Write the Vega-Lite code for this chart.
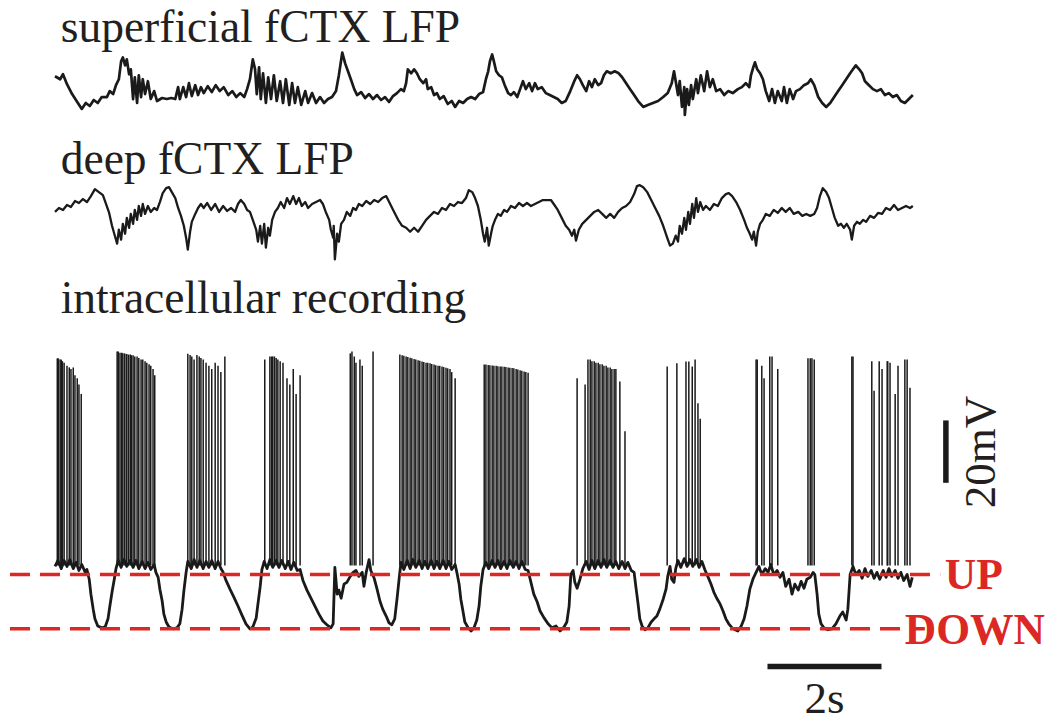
{
"$schema":"https://vega.github.io/schema/vega-lite/v6.json",
"width":1051,"height":723,
"autosize":{"type":"fit","contains":"padding"},
"padding":0,
"background":"white",
"config":{"view":{"stroke":null}},
"datasets":{
"sup":[{"t":0,"v":130},{"t":0.09,"v":100},{"t":0.14,"v":150},{"t":0.21,"v":50},{"t":0.3,"v":-50},{"t":0.39,"v":-130},{"t":0.47,"v":-200},{"t":0.54,"v":-140},{"t":0.61,"v":-170},{"t":0.68,"v":-110},{"t":0.75,"v":-140},{"t":0.82,"v":-80},{"t":0.91,"v":-80},{"t":0.96,"v":-20},{"t":1.02,"v":-50},{"t":1.07,"v":40},{"t":1.12,"v":100},{"t":1.16,"v":280},{"t":1.19,"v":320},{"t":1.23,"v":240},{"t":1.26,"v":300},{"t":1.3,"v":150},{"t":1.33,"v":200},{"t":1.37,"v":-100},{"t":1.4,"v":120},{"t":1.44,"v":-140},{"t":1.47,"v":140},{"t":1.51,"v":-80},{"t":1.54,"v":100},{"t":1.58,"v":-50},{"t":1.63,"v":80},{"t":1.68,"v":-100},{"t":1.74,"v":-20},{"t":1.79,"v":-120},{"t":1.88,"v":-90},{"t":1.96,"v":-100},{"t":2.04,"v":-90},{"t":2.11,"v":-100},{"t":2.16,"v":20},{"t":2.19,"v":-100},{"t":2.25,"v":20},{"t":2.3,"v":-80},{"t":2.35,"v":60},{"t":2.4,"v":-70},{"t":2.46,"v":40},{"t":2.51,"v":-60},{"t":2.56,"v":20},{"t":2.61,"v":-40},{"t":2.68,"v":30},{"t":2.75,"v":-30},{"t":2.82,"v":40},{"t":2.89,"v":-20},{"t":2.96,"v":20},{"t":3.04,"v":-60},{"t":3.11,"v":-20},{"t":3.18,"v":-80},{"t":3.25,"v":-40},{"t":3.32,"v":-80},{"t":3.37,"v":0},{"t":3.42,"v":100},{"t":3.47,"v":300},{"t":3.51,"v":200},{"t":3.54,"v":-50},{"t":3.58,"v":220},{"t":3.61,"v":-100},{"t":3.65,"v":160},{"t":3.7,"v":-140},{"t":3.74,"v":120},{"t":3.79,"v":-100},{"t":3.84,"v":140},{"t":3.89,"v":-120},{"t":3.95,"v":80},{"t":4.0,"v":-140},{"t":4.05,"v":100},{"t":4.11,"v":-160},{"t":4.16,"v":60},{"t":4.21,"v":-140},{"t":4.26,"v":20},{"t":4.32,"v":-160},{"t":4.39,"v":-20},{"t":4.44,"v":-140},{"t":4.51,"v":-40},{"t":4.58,"v":-140},{"t":4.65,"v":-80},{"t":4.72,"v":-140},{"t":4.79,"v":-100},{"t":4.86,"v":-80},{"t":4.93,"v":-20},{"t":4.98,"v":140},{"t":5.04,"v":370},{"t":5.09,"v":260},{"t":5.14,"v":180},{"t":5.19,"v":100},{"t":5.25,"v":0},{"t":5.3,"v":-60},{"t":5.37,"v":-30},{"t":5.44,"v":-90},{"t":5.51,"v":-50},{"t":5.58,"v":-100},{"t":5.65,"v":-60},{"t":5.72,"v":-110},{"t":5.79,"v":-80},{"t":5.86,"v":-130},{"t":5.93,"v":-70},{"t":6.0,"v":-40},{"t":6.07,"v":0},{"t":6.12,"v":-20},{"t":6.16,"v":60},{"t":6.19,"v":200},{"t":6.25,"v":160},{"t":6.3,"v":200},{"t":6.35,"v":160},{"t":6.4,"v":100},{"t":6.46,"v":60},{"t":6.51,"v":100},{"t":6.54,"v":0},{"t":6.6,"v":20},{"t":6.65,"v":-60},{"t":6.7,"v":-40},{"t":6.75,"v":-100},{"t":6.82,"v":-70},{"t":6.89,"v":-150},{"t":6.96,"v":-120},{"t":7.02,"v":-180},{"t":7.09,"v":-120},{"t":7.16,"v":-140},{"t":7.23,"v":-100},{"t":7.3,"v":-80},{"t":7.37,"v":-100},{"t":7.44,"v":-50},{"t":7.51,"v":-30},{"t":7.56,"v":100},{"t":7.6,"v":180},{"t":7.63,"v":280},{"t":7.67,"v":350},{"t":7.7,"v":280},{"t":7.74,"v":180},{"t":7.79,"v":140},{"t":7.84,"v":120},{"t":7.89,"v":40},{"t":7.95,"v":-40},{"t":8.0,"v":-60},{"t":8.05,"v":-30},{"t":8.11,"v":-80},{"t":8.16,"v":0},{"t":8.21,"v":80},{"t":8.26,"v":0},{"t":8.32,"v":60},{"t":8.37,"v":-20},{"t":8.42,"v":60},{"t":8.47,"v":0},{"t":8.54,"v":20},{"t":8.61,"v":-40},{"t":8.68,"v":-60},{"t":8.75,"v":-80},{"t":8.82,"v":-100},{"t":8.89,"v":-140},{"t":8.96,"v":-120},{"t":9.04,"v":-20},{"t":9.11,"v":80},{"t":9.16,"v":140},{"t":9.21,"v":100},{"t":9.26,"v":40},{"t":9.32,"v":-20},{"t":9.37,"v":80},{"t":9.42,"v":20},{"t":9.47,"v":100},{"t":9.53,"v":40},{"t":9.58,"v":60},{"t":9.63,"v":140},{"t":9.68,"v":180},{"t":9.75,"v":160},{"t":9.82,"v":180},{"t":9.89,"v":160},{"t":9.95,"v":120},{"t":10.02,"v":60},{"t":10.09,"v":0},{"t":10.16,"v":-60},{"t":10.23,"v":-120},{"t":10.32,"v":-180},{"t":10.4,"v":-160},{"t":10.49,"v":-140},{"t":10.58,"v":-120},{"t":10.67,"v":-80},{"t":10.75,"v":-40},{"t":10.82,"v":60},{"t":10.86,"v":180},{"t":10.89,"v":80},{"t":10.93,"v":-60},{"t":10.96,"v":80},{"t":11.0,"v":-180},{"t":11.04,"v":20},{"t":11.05,"v":-260},{"t":11.09,"v":0},{"t":11.12,"v":-160},{"t":11.16,"v":40},{"t":11.19,"v":-100},{"t":11.25,"v":100},{"t":11.28,"v":-40},{"t":11.33,"v":140},{"t":11.39,"v":-20},{"t":11.44,"v":180},{"t":11.49,"v":20},{"t":11.54,"v":100},{"t":11.6,"v":-20},{"t":11.67,"v":0},{"t":11.74,"v":-60},{"t":11.81,"v":-20},{"t":11.89,"v":-40},{"t":11.98,"v":0},{"t":12.05,"v":20},{"t":12.12,"v":60},{"t":12.18,"v":20},{"t":12.21,"v":140},{"t":12.25,"v":220},{"t":12.28,"v":270},{"t":12.32,"v":200},{"t":12.37,"v":160},{"t":12.42,"v":100},{"t":12.47,"v":-20},{"t":12.53,"v":-120},{"t":12.58,"v":0},{"t":12.63,"v":-140},{"t":12.68,"v":-20},{"t":12.75,"v":-120},{"t":12.79,"v":20},{"t":12.84,"v":-140},{"t":12.89,"v":0},{"t":12.95,"v":-100},{"t":13.0,"v":-20},{"t":13.07,"v":0},{"t":13.14,"v":40},{"t":13.21,"v":60},{"t":13.26,"v":100},{"t":13.32,"v":40},{"t":13.39,"v":-80},{"t":13.46,"v":-140},{"t":13.53,"v":-180},{"t":13.6,"v":-140},{"t":13.67,"v":-80},{"t":13.74,"v":-20},{"t":13.81,"v":40},{"t":13.88,"v":100},{"t":13.95,"v":160},{"t":14.0,"v":200},{"t":14.05,"v":240},{"t":14.11,"v":200},{"t":14.16,"v":160},{"t":14.21,"v":80},{"t":14.28,"v":40},{"t":14.35,"v":0},{"t":14.42,"v":-20},{"t":14.49,"v":0},{"t":14.56,"v":-60},{"t":14.63,"v":-40},{"t":14.7,"v":-80},{"t":14.77,"v":-60},{"t":14.84,"v":-120},{"t":14.91,"v":-140},{"t":14.98,"v":-100},{"t":15.05,"v":-60}],
"deep":[{"t":0,"v":-40},{"t":0.07,"v":0},{"t":0.14,"v":-20},{"t":0.21,"v":30},{"t":0.28,"v":10},{"t":0.35,"v":70},{"t":0.42,"v":50},{"t":0.49,"v":90},{"t":0.56,"v":60},{"t":0.63,"v":120},{"t":0.7,"v":190},{"t":0.77,"v":160},{"t":0.84,"v":130},{"t":0.89,"v":50},{"t":0.95,"v":-50},{"t":1.0,"v":-180},{"t":1.05,"v":-280},{"t":1.09,"v":-360},{"t":1.12,"v":-220},{"t":1.16,"v":-320},{"t":1.19,"v":-160},{"t":1.23,"v":-260},{"t":1.26,"v":-100},{"t":1.3,"v":-200},{"t":1.33,"v":-60},{"t":1.37,"v":-160},{"t":1.4,"v":-20},{"t":1.44,"v":-120},{"t":1.47,"v":20},{"t":1.51,"v":-80},{"t":1.54,"v":40},{"t":1.58,"v":-60},{"t":1.63,"v":20},{"t":1.68,"v":-40},{"t":1.74,"v":0},{"t":1.79,"v":-20},{"t":1.84,"v":60},{"t":1.89,"v":150},{"t":1.95,"v":200},{"t":2.0,"v":210},{"t":2.05,"v":160},{"t":2.11,"v":100},{"t":2.16,"v":0},{"t":2.21,"v":-80},{"t":2.26,"v":-180},{"t":2.3,"v":-300},{"t":2.33,"v":-420},{"t":2.37,"v":-240},{"t":2.4,"v":-140},{"t":2.46,"v":-60},{"t":2.51,"v":0},{"t":2.56,"v":40},{"t":2.61,"v":0},{"t":2.67,"v":50},{"t":2.74,"v":-20},{"t":2.81,"v":40},{"t":2.88,"v":-40},{"t":2.95,"v":20},{"t":3.02,"v":-30},{"t":3.09,"v":0},{"t":3.16,"v":-40},{"t":3.21,"v":40},{"t":3.26,"v":80},{"t":3.32,"v":40},{"t":3.37,"v":-20},{"t":3.42,"v":-40},{"t":3.47,"v":-120},{"t":3.53,"v":-220},{"t":3.56,"v":-340},{"t":3.6,"v":-180},{"t":3.63,"v":-360},{"t":3.67,"v":-160},{"t":3.7,"v":-400},{"t":3.74,"v":-200},{"t":3.77,"v":-280},{"t":3.81,"v":-120},{"t":3.86,"v":-40},{"t":3.91,"v":0},{"t":3.96,"v":60},{"t":4.02,"v":0},{"t":4.07,"v":100},{"t":4.12,"v":40},{"t":4.18,"v":120},{"t":4.23,"v":40},{"t":4.28,"v":100},{"t":4.33,"v":20},{"t":4.39,"v":60},{"t":4.44,"v":0},{"t":4.51,"v":40},{"t":4.58,"v":60},{"t":4.65,"v":80},{"t":4.7,"v":40},{"t":4.75,"v":-40},{"t":4.81,"v":-120},{"t":4.84,"v":-220},{"t":4.88,"v":-300},{"t":4.89,"v":-180},{"t":4.91,"v":-520},{"t":4.95,"v":-260},{"t":4.98,"v":-340},{"t":5.02,"v":-160},{"t":5.07,"v":-120},{"t":5.12,"v":-40},{"t":5.18,"v":-80},{"t":5.23,"v":0},{"t":5.28,"v":-20},{"t":5.33,"v":40},{"t":5.39,"v":20},{"t":5.46,"v":70},{"t":5.53,"v":40},{"t":5.6,"v":80},{"t":5.67,"v":60},{"t":5.74,"v":100},{"t":5.81,"v":120},{"t":5.88,"v":40},{"t":5.95,"v":-40},{"t":6.02,"v":-120},{"t":6.09,"v":-180},{"t":6.16,"v":-200},{"t":6.23,"v":-240},{"t":6.3,"v":-200},{"t":6.37,"v":-240},{"t":6.44,"v":-180},{"t":6.51,"v":-120},{"t":6.58,"v":-80},{"t":6.65,"v":-40},{"t":6.72,"v":-60},{"t":6.79,"v":0},{"t":6.86,"v":-20},{"t":6.93,"v":40},{"t":7.0,"v":20},{"t":7.07,"v":60},{"t":7.14,"v":50},{"t":7.21,"v":100},{"t":7.26,"v":180},{"t":7.32,"v":160},{"t":7.37,"v":100},{"t":7.42,"v":20},{"t":7.47,"v":-120},{"t":7.51,"v":-260},{"t":7.54,"v":-340},{"t":7.58,"v":-200},{"t":7.61,"v":-380},{"t":7.65,"v":-260},{"t":7.68,"v":-180},{"t":7.72,"v":-120},{"t":7.77,"v":-60},{"t":7.82,"v":-80},{"t":7.88,"v":-20},{"t":7.93,"v":-40},{"t":8.0,"v":20},{"t":8.07,"v":0},{"t":8.14,"v":50},{"t":8.21,"v":20},{"t":8.28,"v":50},{"t":8.35,"v":20},{"t":8.42,"v":40},{"t":8.49,"v":60},{"t":8.56,"v":80},{"t":8.63,"v":80},{"t":8.7,"v":80},{"t":8.75,"v":40},{"t":8.82,"v":-20},{"t":8.89,"v":-100},{"t":8.96,"v":-180},{"t":9.02,"v":-220},{"t":9.07,"v":-280},{"t":9.11,"v":-220},{"t":9.14,"v":-330},{"t":9.19,"v":-220},{"t":9.25,"v":-160},{"t":9.32,"v":-120},{"t":9.39,"v":-80},{"t":9.46,"v":-40},{"t":9.53,"v":-20},{"t":9.6,"v":-60},{"t":9.67,"v":-100},{"t":9.74,"v":-60},{"t":9.81,"v":-100},{"t":9.88,"v":-40},{"t":9.95,"v":0},{"t":10.02,"v":20},{"t":10.09,"v":60},{"t":10.16,"v":140},{"t":10.21,"v":220},{"t":10.26,"v":230},{"t":10.32,"v":210},{"t":10.39,"v":160},{"t":10.46,"v":80},{"t":10.53,"v":0},{"t":10.6,"v":-80},{"t":10.67,"v":-180},{"t":10.74,"v":-300},{"t":10.79,"v":-380},{"t":10.84,"v":-360},{"t":10.89,"v":-280},{"t":10.93,"v":-340},{"t":10.96,"v":-180},{"t":11.0,"v":-260},{"t":11.04,"v":-100},{"t":11.07,"v":-220},{"t":11.11,"v":-40},{"t":11.14,"v":-160},{"t":11.18,"v":40},{"t":11.21,"v":-100},{"t":11.25,"v":100},{"t":11.28,"v":-40},{"t":11.32,"v":60},{"t":11.37,"v":-20},{"t":11.42,"v":20},{"t":11.49,"v":-20},{"t":11.56,"v":40},{"t":11.63,"v":20},{"t":11.7,"v":100},{"t":11.77,"v":140},{"t":11.82,"v":150},{"t":11.88,"v":120},{"t":11.95,"v":60},{"t":12.02,"v":-20},{"t":12.09,"v":-120},{"t":12.14,"v":-200},{"t":12.19,"v":-260},{"t":12.23,"v":-320},{"t":12.26,"v":-240},{"t":12.3,"v":-380},{"t":12.33,"v":-240},{"t":12.37,"v":-160},{"t":12.42,"v":-120},{"t":12.47,"v":-60},{"t":12.54,"v":-80},{"t":12.61,"v":-20},{"t":12.68,"v":-50},{"t":12.75,"v":0},{"t":12.82,"v":-40},{"t":12.89,"v":0},{"t":12.96,"v":-60},{"t":13.04,"v":-40},{"t":13.11,"v":-80},{"t":13.18,"v":-60},{"t":13.25,"v":-80},{"t":13.32,"v":-60},{"t":13.37,"v":0},{"t":13.42,"v":120},{"t":13.47,"v":200},{"t":13.53,"v":160},{"t":13.58,"v":100},{"t":13.63,"v":0},{"t":13.68,"v":-100},{"t":13.74,"v":-180},{"t":13.79,"v":-160},{"t":13.84,"v":-200},{"t":13.89,"v":-160},{"t":13.95,"v":-220},{"t":13.98,"v":-320},{"t":14.02,"v":-180},{"t":14.07,"v":-140},{"t":14.12,"v":-160},{"t":14.18,"v":-120},{"t":14.23,"v":-140},{"t":14.3,"v":-80},{"t":14.37,"v":-100},{"t":14.44,"v":-50},{"t":14.51,"v":-60},{"t":14.58,"v":0},{"t":14.65,"v":-20},{"t":14.72,"v":30},{"t":14.79,"v":-20},{"t":14.86,"v":0},{"t":14.93,"v":20},{"t":15.0,"v":0},{"t":15.05,"v":20}],
"intra":[{"t":0,"v":-55.3},{"t":0.05,"v":-53.4},{"t":0.11,"v":-56.0},{"t":0.16,"v":-53.4},{"t":0.21,"v":-55.3},{"t":0.26,"v":-53.1},{"t":0.32,"v":-56.0},{"t":0.37,"v":-54.0},{"t":0.42,"v":-56.6},{"t":0.47,"v":-54.7},{"t":0.53,"v":-57.2},{"t":0.56,"v":-56.3},{"t":0.6,"v":-59.4},{"t":0.63,"v":-64.2},{"t":0.67,"v":-69.0},{"t":0.7,"v":-72.1},{"t":0.75,"v":-74.4},{"t":0.82,"v":-75.0},{"t":0.88,"v":-74.7},{"t":0.93,"v":-72.1},{"t":0.96,"v":-68.3},{"t":1.0,"v":-63.6},{"t":1.04,"v":-59.4},{"t":1.07,"v":-56.0},{"t":1.11,"v":-53.4},{"t":1.16,"v":-55.6},{"t":1.21,"v":-53.1},{"t":1.26,"v":-55.3},{"t":1.32,"v":-53.4},{"t":1.37,"v":-55.6},{"t":1.42,"v":-53.4},{"t":1.47,"v":-56.0},{"t":1.53,"v":-53.7},{"t":1.58,"v":-56.0},{"t":1.63,"v":-54.0},{"t":1.68,"v":-56.3},{"t":1.74,"v":-54.7},{"t":1.77,"v":-57.2},{"t":1.81,"v":-58.8},{"t":1.84,"v":-62.6},{"t":1.88,"v":-66.4},{"t":1.91,"v":-70.6},{"t":1.95,"v":-73.1},{"t":2.0,"v":-74.7},{"t":2.07,"v":-75.3},{"t":2.14,"v":-75.0},{"t":2.19,"v":-73.7},{"t":2.23,"v":-69.0},{"t":2.26,"v":-63.3},{"t":2.3,"v":-57.2},{"t":2.33,"v":-53.7},{"t":2.39,"v":-56.0},{"t":2.44,"v":-53.1},{"t":2.49,"v":-55.6},{"t":2.54,"v":-53.4},{"t":2.6,"v":-56.0},{"t":2.65,"v":-53.7},{"t":2.7,"v":-55.6},{"t":2.75,"v":-53.4},{"t":2.81,"v":-56.0},{"t":2.86,"v":-53.7},{"t":2.91,"v":-56.0},{"t":2.95,"v":-57.2},{"t":3.0,"v":-59.8},{"t":3.07,"v":-62.6},{"t":3.14,"v":-65.2},{"t":3.21,"v":-68.0},{"t":3.28,"v":-70.9},{"t":3.35,"v":-73.7},{"t":3.42,"v":-75.3},{"t":3.47,"v":-74.7},{"t":3.53,"v":-71.8},{"t":3.56,"v":-67.4},{"t":3.6,"v":-61.7},{"t":3.63,"v":-56.3},{"t":3.67,"v":-53.7},{"t":3.72,"v":-56.0},{"t":3.77,"v":-53.1},{"t":3.82,"v":-55.6},{"t":3.88,"v":-53.4},{"t":3.93,"v":-55.6},{"t":3.98,"v":-53.4},{"t":4.04,"v":-56.0},{"t":4.09,"v":-53.7},{"t":4.14,"v":-56.3},{"t":4.19,"v":-54.0},{"t":4.25,"v":-56.6},{"t":4.3,"v":-56.3},{"t":4.35,"v":-59.8},{"t":4.42,"v":-62.9},{"t":4.49,"v":-65.5},{"t":4.56,"v":-68.0},{"t":4.63,"v":-70.6},{"t":4.7,"v":-72.8},{"t":4.77,"v":-74.0},{"t":4.84,"v":-75.0},{"t":4.88,"v":-73.7},{"t":4.91,"v":-55.6},{"t":4.95,"v":-64.2},{"t":4.98,"v":-62.9},{"t":5.02,"v":-65.5},{"t":5.07,"v":-61.0},{"t":5.12,"v":-60.4},{"t":5.18,"v":-58.5},{"t":5.23,"v":-57.2},{"t":5.28,"v":-56.6},{"t":5.33,"v":-58.5},{"t":5.39,"v":-57.2},{"t":5.42,"v":-61.7},{"t":5.46,"v":-57.2},{"t":5.51,"v":-53.1},{"t":5.54,"v":-56.6},{"t":5.6,"v":-59.1},{"t":5.65,"v":-62.6},{"t":5.7,"v":-66.4},{"t":5.75,"v":-69.0},{"t":5.81,"v":-71.2},{"t":5.86,"v":-73.4},{"t":5.91,"v":-74.0},{"t":5.96,"v":-72.1},{"t":6.0,"v":-65.8},{"t":6.04,"v":-58.8},{"t":6.07,"v":-54.0},{"t":6.12,"v":-56.3},{"t":6.18,"v":-53.4},{"t":6.23,"v":-56.0},{"t":6.28,"v":-53.1},{"t":6.33,"v":-55.6},{"t":6.39,"v":-53.4},{"t":6.44,"v":-56.0},{"t":6.49,"v":-53.7},{"t":6.54,"v":-56.0},{"t":6.6,"v":-53.4},{"t":6.65,"v":-56.0},{"t":6.7,"v":-53.7},{"t":6.75,"v":-56.0},{"t":6.81,"v":-53.4},{"t":6.86,"v":-56.0},{"t":6.91,"v":-53.7},{"t":6.96,"v":-56.3},{"t":7.02,"v":-54.7},{"t":7.05,"v":-57.2},{"t":7.09,"v":-61.0},{"t":7.12,"v":-65.8},{"t":7.16,"v":-69.9},{"t":7.19,"v":-73.1},{"t":7.25,"v":-75.0},{"t":7.3,"v":-76.0},{"t":7.35,"v":-75.0},{"t":7.4,"v":-72.5},{"t":7.44,"v":-68.0},{"t":7.47,"v":-61.7},{"t":7.51,"v":-56.3},{"t":7.56,"v":-54.0},{"t":7.61,"v":-56.0},{"t":7.67,"v":-53.4},{"t":7.72,"v":-55.6},{"t":7.77,"v":-53.4},{"t":7.82,"v":-56.0},{"t":7.88,"v":-53.7},{"t":7.93,"v":-56.0},{"t":7.98,"v":-53.4},{"t":8.04,"v":-55.6},{"t":8.09,"v":-53.7},{"t":8.14,"v":-56.0},{"t":8.19,"v":-53.7},{"t":8.25,"v":-56.3},{"t":8.3,"v":-56.6},{"t":8.35,"v":-60.4},{"t":8.4,"v":-64.2},{"t":8.46,"v":-66.7},{"t":8.51,"v":-69.6},{"t":8.58,"v":-71.8},{"t":8.65,"v":-73.7},{"t":8.72,"v":-75.0},{"t":8.79,"v":-74.4},{"t":8.86,"v":-76.0},{"t":8.93,"v":-74.7},{"t":8.98,"v":-73.1},{"t":9.02,"v":-68.0},{"t":9.05,"v":-57.9},{"t":9.09,"v":-56.6},{"t":9.12,"v":-60.4},{"t":9.16,"v":-62.3},{"t":9.21,"v":-59.4},{"t":9.26,"v":-56.0},{"t":9.32,"v":-53.7},{"t":9.37,"v":-56.3},{"t":9.42,"v":-53.4},{"t":9.47,"v":-56.0},{"t":9.53,"v":-53.4},{"t":9.58,"v":-55.6},{"t":9.63,"v":-53.1},{"t":9.68,"v":-55.6},{"t":9.74,"v":-53.4},{"t":9.79,"v":-55.6},{"t":9.84,"v":-53.7},{"t":9.89,"v":-56.0},{"t":9.95,"v":-53.7},{"t":10.0,"v":-56.0},{"t":10.05,"v":-54.0},{"t":10.11,"v":-56.6},{"t":10.16,"v":-57.2},{"t":10.19,"v":-61.7},{"t":10.23,"v":-67.4},{"t":10.26,"v":-72.1},{"t":10.3,"v":-74.4},{"t":10.35,"v":-75.6},{"t":10.4,"v":-75.0},{"t":10.46,"v":-73.1},{"t":10.51,"v":-72.1},{"t":10.56,"v":-71.2},{"t":10.61,"v":-69.0},{"t":10.67,"v":-65.8},{"t":10.72,"v":-62.6},{"t":10.75,"v":-58.5},{"t":10.79,"v":-55.3},{"t":10.82,"v":-59.4},{"t":10.86,"v":-60.4},{"t":10.89,"v":-56.0},{"t":10.93,"v":-53.4},{"t":10.98,"v":-55.6},{"t":11.04,"v":-52.8},{"t":11.09,"v":-55.3},{"t":11.14,"v":-53.1},{"t":11.19,"v":-55.3},{"t":11.25,"v":-53.1},{"t":11.3,"v":-55.6},{"t":11.35,"v":-53.7},{"t":11.4,"v":-56.3},{"t":11.46,"v":-58.8},{"t":11.51,"v":-61.0},{"t":11.56,"v":-63.6},{"t":11.61,"v":-65.5},{"t":11.67,"v":-67.4},{"t":11.72,"v":-69.6},{"t":11.77,"v":-72.1},{"t":11.82,"v":-73.7},{"t":11.88,"v":-75.0},{"t":11.93,"v":-75.6},{"t":11.98,"v":-76.0},{"t":12.04,"v":-74.4},{"t":12.09,"v":-72.1},{"t":12.14,"v":-68.0},{"t":12.19,"v":-62.6},{"t":12.25,"v":-59.1},{"t":12.3,"v":-57.2},{"t":12.35,"v":-55.3},{"t":12.4,"v":-57.9},{"t":12.46,"v":-56.0},{"t":12.51,"v":-57.2},{"t":12.56,"v":-54.7},{"t":12.61,"v":-57.9},{"t":12.67,"v":-56.6},{"t":12.72,"v":-58.8},{"t":12.77,"v":-57.2},{"t":12.82,"v":-61.7},{"t":12.88,"v":-59.4},{"t":12.93,"v":-64.2},{"t":12.98,"v":-61.0},{"t":13.04,"v":-62.9},{"t":13.09,"v":-60.1},{"t":13.14,"v":-62.3},{"t":13.19,"v":-59.4},{"t":13.25,"v":-58.8},{"t":13.3,"v":-57.2},{"t":13.33,"v":-57.9},{"t":13.37,"v":-64.2},{"t":13.4,"v":-70.6},{"t":13.44,"v":-73.7},{"t":13.49,"v":-75.0},{"t":13.56,"v":-75.6},{"t":13.63,"v":-75.3},{"t":13.7,"v":-73.7},{"t":13.77,"v":-71.2},{"t":13.82,"v":-69.9},{"t":13.88,"v":-72.5},{"t":13.91,"v":-69.0},{"t":13.95,"v":-57.9},{"t":14.0,"v":-55.3},{"t":14.05,"v":-57.9},{"t":14.11,"v":-56.6},{"t":14.16,"v":-59.1},{"t":14.21,"v":-56.0},{"t":14.26,"v":-58.5},{"t":14.32,"v":-56.6},{"t":14.37,"v":-59.1},{"t":14.42,"v":-57.2},{"t":14.47,"v":-59.4},{"t":14.53,"v":-56.6},{"t":14.58,"v":-58.8},{"t":14.63,"v":-56.0},{"t":14.68,"v":-58.5},{"t":14.74,"v":-56.6},{"t":14.79,"v":-59.1},{"t":14.84,"v":-57.2},{"t":14.89,"v":-59.8},{"t":14.95,"v":-57.9},{"t":15.0,"v":-61.7},{"t":15.04,"v":-58.8}],
"spikes":[{"t":0.04,"peak":11.4},{"t":0.06,"peak":11.4},{"t":0.09,"peak":11},{"t":0.11,"peak":11},{"t":0.13,"peak":10.5},{"t":0.16,"peak":10},{"t":0.21,"peak":9},{"t":0.25,"peak":8.5},{"t":0.28,"peak":8},{"t":0.32,"peak":8.5},{"t":0.35,"peak":6},{"t":0.39,"peak":5},{"t":0.42,"peak":3},{"t":0.46,"peak":0},
{"t":1.09,"peak":13.6},{"t":1.11,"peak":13.6},{"t":1.14,"peak":13.2},{"t":1.17,"peak":13.2},{"t":1.19,"peak":13},{"t":1.22,"peak":13},{"t":1.25,"peak":12.8},{"t":1.26,"peak":12.8},{"t":1.29,"peak":12.6},{"t":1.32,"peak":12.6},{"t":1.34,"peak":12.4},{"t":1.37,"peak":12.4},{"t":1.4,"peak":12},{"t":1.44,"peak":12},{"t":1.47,"peak":11.5},{"t":1.51,"peak":11},{"t":1.54,"peak":11},{"t":1.58,"peak":10.5},{"t":1.61,"peak":10},{"t":1.65,"peak":9.5},{"t":1.68,"peak":9},{"t":1.72,"peak":8},{"t":1.75,"peak":6},
{"t":2.33,"peak":12.9},{"t":2.37,"peak":12.5},{"t":2.4,"peak":12},{"t":2.44,"peak":11},{"t":2.49,"peak":12.5},{"t":2.53,"peak":12},{"t":2.56,"peak":11.5},{"t":2.6,"peak":11},{"t":2.65,"peak":10},{"t":2.7,"peak":9},{"t":2.75,"peak":8},{"t":2.81,"peak":10},{"t":2.86,"peak":9},{"t":2.91,"peak":7},{"t":2.98,"peak":12},
{"t":3.68,"peak":11},{"t":3.77,"peak":12},{"t":3.8,"peak":12},{"t":3.82,"peak":12},{"t":3.85,"peak":12},{"t":3.88,"peak":11.5},{"t":3.91,"peak":11},{"t":3.95,"peak":10.5},{"t":4.0,"peak":10},{"t":4.07,"peak":5},{"t":4.12,"peak":3},{"t":4.18,"peak":8},{"t":4.23,"peak":0},{"t":4.3,"peak":6},
{"t":5.18,"peak":13},{"t":5.21,"peak":13.6},{"t":5.25,"peak":12},{"t":5.28,"peak":10},{"t":5.35,"peak":11},{"t":5.39,"peak":9},{"t":5.58,"peak":13.6},
{"t":6.05,"peak":12.6},{"t":6.09,"peak":12.4},{"t":6.12,"peak":12.2},{"t":6.16,"peak":12},{"t":6.19,"peak":11.8},{"t":6.23,"peak":11.6},{"t":6.26,"peak":11.4},{"t":6.3,"peak":11.2},{"t":6.33,"peak":11},{"t":6.37,"peak":10.8},{"t":6.4,"peak":10.6},{"t":6.44,"peak":10.4},{"t":6.47,"peak":10.2},{"t":6.51,"peak":10},{"t":6.54,"peak":10},{"t":6.58,"peak":9.8},{"t":6.61,"peak":9.6},{"t":6.65,"peak":9.4},{"t":6.68,"peak":9.2},{"t":6.72,"peak":9},{"t":6.75,"peak":9},{"t":6.79,"peak":8.8},{"t":6.82,"peak":8.6},{"t":6.86,"peak":8.4},{"t":6.89,"peak":8.2},{"t":6.93,"peak":8},{"t":6.96,"peak":7},{"t":7.02,"peak":5},
{"t":7.53,"peak":9.4},{"t":7.56,"peak":9.4},{"t":7.6,"peak":9.3},{"t":7.63,"peak":9.2},{"t":7.67,"peak":9.1},{"t":7.7,"peak":9},{"t":7.74,"peak":9},{"t":7.77,"peak":8.9},{"t":7.81,"peak":8.8},{"t":7.84,"peak":8.8},{"t":7.88,"peak":8.7},{"t":7.91,"peak":8.6},{"t":7.95,"peak":8.5},{"t":7.98,"peak":8.4},{"t":8.02,"peak":8.3},{"t":8.05,"peak":8.2},{"t":8.09,"peak":8},{"t":8.12,"peak":7.8},{"t":8.16,"peak":7.6},{"t":8.19,"peak":7.4},{"t":8.23,"peak":7.2},{"t":8.26,"peak":7},{"t":8.3,"peak":6.8},
{"t":9.16,"peak":5},{"t":9.3,"peak":3},{"t":9.35,"peak":11},{"t":9.39,"peak":11},{"t":9.42,"peak":10.5},{"t":9.46,"peak":10.5},{"t":9.49,"peak":10},{"t":9.53,"peak":10},{"t":9.56,"peak":9.5},{"t":9.6,"peak":9.5},{"t":9.63,"peak":9},{"t":9.67,"peak":9},{"t":9.7,"peak":8.5},{"t":9.74,"peak":8.5},{"t":9.77,"peak":8},{"t":9.81,"peak":8},{"t":9.84,"peak":8},{"t":9.91,"peak":4},{"t":10.0,"peak":-12},
{"t":10.74,"peak":8.8},{"t":10.91,"peak":9.8},{"t":11.07,"peak":10.4},{"t":11.12,"peak":10.4},{"t":11.18,"peak":8.8},{"t":11.23,"peak":11},{"t":11.28,"peak":-3},{"t":11.32,"peak":-8},
{"t":12.3,"peak":11},{"t":12.32,"peak":11},{"t":12.4,"peak":9},{"t":12.44,"peak":5},{"t":12.54,"peak":12},{"t":12.58,"peak":12},{"t":12.68,"peak":8},
{"t":13.21,"peak":11.4},{"t":13.25,"peak":11.4},{"t":13.28,"peak":11.4},{"t":13.32,"peak":11},
{"t":13.98,"peak":12},{"t":14.0,"peak":12},{"t":14.33,"peak":10.5},{"t":14.37,"peak":1},{"t":14.46,"peak":10.5},{"t":14.51,"peak":8},{"t":14.6,"peak":10.5},{"t":14.61,"peak":10.5},{"t":14.65,"peak":10},{"t":14.74,"peak":0},{"t":14.79,"peak":9},{"t":14.91,"peak":11},{"t":14.95,"peak":11},{"t":15.0,"peak":2}]
},
"layer":[
{"data":{"name":"sup"},"mark":{"type":"line","color":"#1a1a1a","strokeWidth":2.7,"strokeJoin":"round"},
 "encoding":{"x":{"field":"t","type":"quantitative","scale":{"domain":[-0.965,17.474],"nice":false,"zero":false},"axis":null},
 "y":{"field":"v","type":"quantitative","scale":{"domain":[-6330,900],"nice":false,"zero":false},"axis":null}}},
{"data":{"name":"deep"},"mark":{"type":"line","color":"#1a1a1a","strokeWidth":2.3,"strokeJoin":"round"},
 "encoding":{"x":{"field":"t","type":"quantitative","scale":{"domain":[-0.965,17.474],"nice":false,"zero":false},"axis":null},
 "y":{"field":"v","type":"quantitative","scale":{"domain":[-5130,2100],"nice":false,"zero":false},"axis":null}}},
{"data":{"name":"intra"},"mark":{"type":"line","color":"#1a1a1a","strokeWidth":2.8,"strokeJoin":"round"},
 "encoding":{"x":{"field":"t","type":"quantitative","scale":{"domain":[-0.965,17.474],"nice":false,"zero":false},"axis":null},
 "y":{"field":"v","type":"quantitative","scale":{"domain":[-103.25,126.27],"nice":false,"zero":false},"axis":null}}},
{"data":{"name":"spikes"},"mark":{"type":"rule","color":"#1a1a1a","strokeWidth":1.5},
 "encoding":{"x":{"field":"t","type":"quantitative","scale":{"domain":[-0.965,17.474],"nice":false,"zero":false},"axis":null},
 "y":{"field":"peak","type":"quantitative","scale":{"domain":[-103.25,126.27],"nice":false,"zero":false},"axis":null},
 "y2":{"datum":-55}}},
{"data":{"values":[{"label":"superficial fCTX LFP","t":0.1,"v":112.9},{"label":"deep fCTX LFP","t":0.1,"v":70.4},{"label":"intracellular recording","t":0.1,"v":26.0}]},
 "mark":{"type":"text","font":"Liberation Serif","fontSize":45.5,"color":"#231f20","align":"left","baseline":"alphabetic"},
 "encoding":{"x":{"field":"t","type":"quantitative","scale":{"domain":[-0.965,17.474],"nice":false,"zero":false},"axis":null},
 "y":{"field":"v","type":"quantitative","scale":{"domain":[-103.25,126.27],"nice":false,"zero":false},"axis":null},
 "text":{"field":"label"}}},
{"data":{"values":[{"label":"UP","t":15.61,"v":-62.6},{"label":"DOWN","t":14.91,"v":-80.1}]},
 "mark":{"type":"text","font":"Liberation Serif","fontSize":43.5,"fontWeight":"bold","color":"#dc2824","align":"left","baseline":"alphabetic"},
 "encoding":{"x":{"field":"t","type":"quantitative","scale":{"domain":[-0.965,17.474],"nice":false,"zero":false},"axis":null},
 "y":{"field":"v","type":"quantitative","scale":{"domain":[-103.25,126.27],"nice":false,"zero":false},"axis":null},
 "text":{"field":"label"}}},
{"data":{"values":[{"state":"UP","v":-57.9,"t0":-0.79,"t1":15.53},{"state":"DOWN","v":-75.3,"t0":-0.79,"t1":15.26}]},
 "mark":{"type":"rule","color":"#dc2824","strokeWidth":3.5,"strokeDash":[20,10]},
 "encoding":{"x":{"field":"t0","type":"quantitative","scale":{"domain":[-0.965,17.474],"nice":false,"zero":false},"axis":null},
 "x2":{"field":"t1"},
 "y":{"field":"v","type":"quantitative","scale":{"domain":[-103.25,126.27],"nice":false,"zero":false},"axis":null}}},
{"data":{"values":[{"bar":"20 mV","t0":15.63,"t1":15.63,"v0":-28.5,"v1":-8.5},{"bar":"2 s","t0":12.5,"t1":14.5,"v0":-87.4,"v1":-87.4}]},
 "mark":{"type":"rule","color":"#1a1a1a","strokeWidth":5.5,"strokeCap":"butt"},
 "encoding":{"x":{"field":"t0","type":"quantitative","scale":{"domain":[-0.965,17.474],"nice":false,"zero":false},"axis":null},
 "x2":{"field":"t1"},
 "y":{"field":"v0","type":"quantitative","scale":{"domain":[-103.25,126.27],"nice":false,"zero":false},"axis":null},
 "y2":{"field":"v1"}}},
{"data":{"values":[{"label":"2s","t":13.5,"v":-102.3}]},
 "mark":{"type":"text","font":"Liberation Serif","fontSize":45,"color":"#231f20","align":"center","baseline":"alphabetic"},
 "encoding":{"x":{"field":"t","type":"quantitative","scale":{"domain":[-0.965,17.474],"nice":false,"zero":false},"axis":null},
 "y":{"field":"v","type":"quantitative","scale":{"domain":[-103.25,126.27],"nice":false,"zero":false},"axis":null},
 "text":{"field":"label"}}},
{"data":{"values":[{"label":"20mV","t":16.49,"v":-18.65}]},
 "mark":{"type":"text","font":"Liberation Serif","fontSize":45,"color":"#231f20","align":"center","baseline":"alphabetic","angle":270},
 "encoding":{"x":{"field":"t","type":"quantitative","scale":{"domain":[-0.965,17.474],"nice":false,"zero":false},"axis":null},
 "y":{"field":"v","type":"quantitative","scale":{"domain":[-103.25,126.27],"nice":false,"zero":false},"axis":null},
 "text":{"field":"label"}}}
],
"resolve":{"scale":{"y":"independent"}}
}
